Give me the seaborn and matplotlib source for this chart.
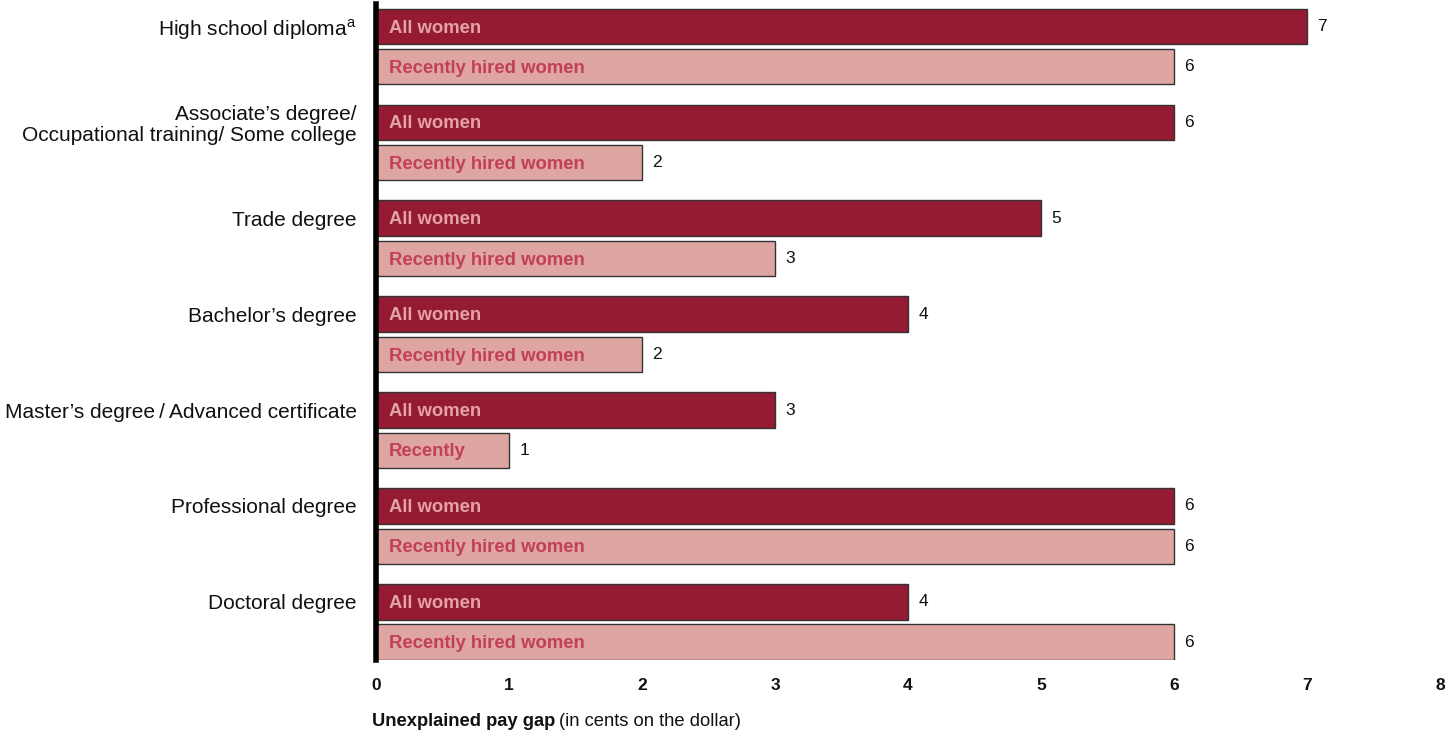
import matplotlib
matplotlib.use("Agg")
import matplotlib.pyplot as plt
import seaborn as sns
import pandas as pd

categories = [
    "High school diploma$^\\mathregular{a}$",
    "Associate\u2019s degree/\nOccupational training/ Some college",
    "Trade degree",
    "Bachelor\u2019s degree",
    "Master\u2019s degree\u2009/\u2009Advanced certificate",
    "Professional degree",
    "Doctoral degree",
]
series = ["All women", "Recently hired women"]
all_women = [7, 6, 5, 4, 3, 6, 4]
recent_women = [6, 2, 3, 2, 1, 6, 6]
bar_text_all = ["All women"] * 7
bar_text_recent = ["Recently hired women"] * 4 + ["Recently"] + ["Recently hired women"] * 2
x_ticks = [0, 1, 2, 3, 4, 5, 6, 7, 8]

dark = "#951a33"
light = "#dea5a3"

sns.set_theme(style="white")
plt.rcParams["font.family"] = ["Liberation Sans", "DejaVu Sans"]

rows = []
for i, c in enumerate(categories):
    rows.append({"cat": c, "series": series[0], "val": all_women[i]})
    rows.append({"cat": c, "series": series[1], "val": recent_women[i]})
df = pd.DataFrame(rows)

fig = plt.figure(figsize=(14.56, 7.33), dpi=100)
ax = fig.add_axes([376 / 1456, 1 - 660.4 / 733, (1440 - 376) / 1456, (660.4 - 4.3) / 733])

sns.barplot(data=df, y="cat", x="val", hue="series", order=categories,
            hue_order=series, palette=[dark, light], width=0.84, gap=0.12,
            edgecolor="#333333", linewidth=1.0, legend=False, ax=ax,
            saturation=1, orient="h")

ax.set_xlim(0, 8)
ax.set_ylim(6.4, -0.44)

# bar labels
for cont, texts, tcolor in [(ax.containers[0], bar_text_all, "#e3a3a6"),
                            (ax.containers[1], bar_text_recent, "#c23f58")]:
    for patch, txt in zip(cont.patches, texts):
        yc = patch.get_y() + patch.get_height() / 2
        w = patch.get_width()
        ax.annotate(txt, (0, yc), xytext=(9.3, -1.2), textcoords="offset points",
                    ha="left", va="center", fontsize=13.3, fontweight="bold",
                    color=tcolor)
        ax.annotate(f"{w:g}", (w, yc), xytext=(7.5, 0), textcoords="offset points",
                    ha="left", va="center", fontsize=12.5, color="#111111")

# y labels aligned with the "All women" bars
ypos = [p.get_y() + p.get_height() / 2 for p in ax.containers[0].patches]
ax.set_yticks(ypos)
ax.set_yticklabels(categories, fontsize=15, color="#111111", linespacing=1.1,
                   multialignment="right")
ax.tick_params(axis="y", length=0, pad=14)

ax.set_xticks(x_ticks)
ax.set_xticklabels([str(t) for t in x_ticks], fontsize=12.5, fontweight="bold",
                   color="#111111")
ax.tick_params(axis="x", length=0, pad=13)

ax.set_xlabel("")
ax.set_ylabel("")
for s in ["top", "right", "bottom"]:
    ax.spines[s].set_visible(False)
ax.spines["left"].set_linewidth(4)
ax.spines["left"].set_color("black")
ax.grid(False)

# x axis title: bold + regular part
t1 = fig.text(372 / 1456, 1 - 721 / 733, "Unexplained pay gap", fontsize=13.2,
              fontweight="bold", ha="left", va="center", color="#111111")
fig.canvas.draw()
bb = t1.get_window_extent()
fig.text(bb.x1 / fig.bbox.width + 4 / 1456, 1 - 721 / 733, "(in cents on the dollar)",
         fontsize=13.2, ha="left", va="center", color="#111111")

fig.savefig("out.png", dpi=100)
